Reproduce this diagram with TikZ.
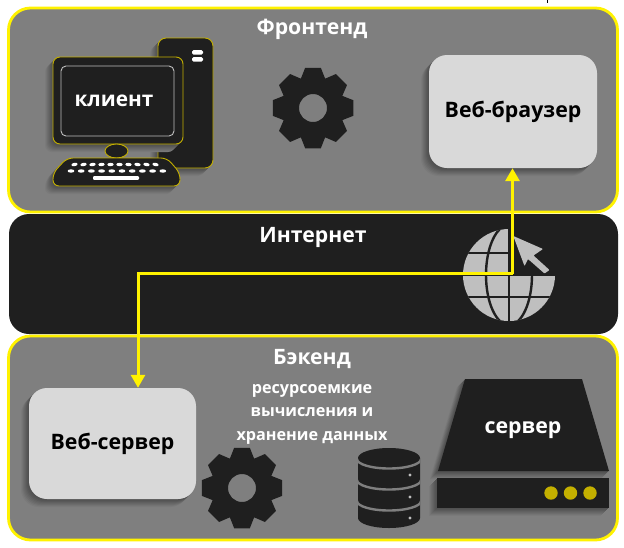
\documentclass[tikz,border=0pt]{standalone}
\usepackage{fontspec}
\setmainfont{Open Sans}
\usetikzlibrary{arrows.meta}
\definecolor{pgray}{HTML}{7F7F7F}
\definecolor{dark}{HTML}{1F1F1F}
\definecolor{lgray}{HTML}{D9D9D9}
\definecolor{globec}{HTML}{BFBFBF}
\definecolor{yel}{HTML}{FFF200}
\definecolor{dyel}{HTML}{C4B000}
\tikzset{
  panel/.style={draw=yel,line width=2.8pt,fill=pgray,rounded corners=22pt,inner sep=0pt},
  midpanel/.style={fill=dark,rounded corners=20pt,inner sep=0pt},
  card/.style={fill=lgray,rounded corners=18pt,inner sep=0pt,text=black,font=\bfseries\fontsize{21.3}{25}\selectfont},
  title/.style={text=white,inner sep=0pt,align=center,font=\bfseries\fontsize{21.2}{25}\selectfont},
  note/.style={text=white,inner sep=0pt,align=center,font=\bfseries\fontsize{16.2}{23.5}\selectfont},
  outl/.style={draw=dyel,line width=.9pt,fill=dark},
  conn/.style={draw=yel,line width=3pt},
  yhead/.style={-{Triangle[length=13pt,width=14pt,fill=yel]}},
}
% stacked opaque tints, outermost first: offset / percentage of panel grey
\newcommand{\softrect}[5]{%
  \foreach \k/\p in {8/96,7/91,6/86,5/81,4/76,3/71,2/67,1/64} {
    \fill[pgray!\p!black,rounded corners=#5] (#1-\k,#2+\k) rectangle (#3-\k,#4+\k);
  }%
}
\newcommand{\gearshape}[2]{%
  \fill[dark,even odd rule,shift={(#1,#2)}] (-24:31)
    \foreach \a in {0,45,...,315} {
      -- (\a-22:32) -- (\a-11:41) -- (\a+11:41) -- (\a+22:32)
    } -- cycle (0,0) circle (14);
}
\begin{document}
\begin{tikzpicture}[x=1pt,y=-1pt]
\useasboundingbox (0,0) rectangle (624,547);
\fill[white] (0,0) rectangle (624,547);
\draw[black,line width=.6pt] (547.5,0) -- (547.5,3);
% panels
\node[panel,minimum width=609,minimum height=204] (front) at (313,110) {};
\node[panel,minimum width=609,minimum height=204] (back) at (313,438) {};
\node[midpanel,minimum width=609,minimum height=120] (net) at (313.5,274) {};
\node[title] (tfront) at (312,29.5) {Фронтенд};
\node[title] (tnet) at (313,237) {Интернет};
\node[title] (tback) at (312,359) {Бэкенд};
% computer
\softrect{158}{38}{213}{168}{8pt}
\path[outl,rounded corners=8pt] (158,38) rectangle (213,168);
\fill[white,rounded corners=1.5pt] (192,50) rectangle (203,54.5) (192,57) rectangle (203,61.5);
\softrect{53}{57}{183}{144}{7pt}
\path[outl,rounded corners=7pt] (53,57) rectangle (183,144);
\draw[globec,line width=.9pt,fill=dark,rounded corners=5pt] (61,66) rectangle (174,136);
\node[text=white,inner sep=0pt,font=\bfseries\fontsize{20.8}{25}\selectfont] (client) at (114,101) {клиент};
\path[outl] (116.5,151) ellipse (11.5 and 7);
\foreach \k/\p in {8/96,7/91,6/86,5/81,4/76,3/71,2/67,1/64} {
  \fill[pgray!\p!black,rounded corners=6pt] (67-\k,158+\k) -- (167-\k,158+\k) -- (180-\k,173+\k) -- (180-\k,186+\k) -- (53-\k,186+\k) -- (53-\k,173+\k) -- cycle;
}
\path[outl,rounded corners=6pt] (67,158) -- (167,158) -- (180,173) -- (180,186) -- (53,186) -- (53,173) -- cycle;
\foreach \i in {0,...,9} {
  \fill[white,rotate around={(\i-4.5)*-2.5:(115+\i*9-40.5,164.5)}] (115+\i*9-40.5,164.5) ellipse (3.2 and 1.7);
  \fill[white] (117+\i*10.2-46,171) ellipse (3.4 and 1.7);
}
\fill[white,rounded corners=1pt] (93,176.2) rectangle (139,179.8);
% front gear and browser
\gearshape{313}{108}
\softrect{429}{55}{597}{168}{18pt}
\node[card,minimum width=168,minimum height=113] (browser) at (513,111.5) {\raisebox{-2pt}{Веб-браузер}};
% globe
\begin{scope}
  \clip (509,275) circle (46);
  \fill[globec] (463,228) rectangle (509,322);
  \fill[globec] (509,275) rectangle (556,322);
  \draw[dark,line width=2.4pt] (509,275) ellipse (23 and 50);
  \draw[dark,line width=2.4pt] (509,225) -- (509,325);
  \draw[dark,line width=2.4pt] (460,253) -- (560,253) (460,297) -- (560,297) (460,275) -- (560,275);
\end{scope}
\fill[globec,rounded corners=.8pt] (513.3,236) -- (543,249) -- (533.5,255.5) -- (549.5,270) -- (544.5,273.5) -- (528,259) -- (524.5,266) -- cycle;
% back
\softrect{29}{388}{196}{499}{18pt}
\node[card,minimum width=167,minimum height=111] (webserver) at (112.5,443.5) {\raisebox{-2pt}{Веб-сервер}};
\gearshape{242}{488}
\node[note] (heavy) at (312,414) {ресурсоемкие\\вычисления и\\хранение данных};
% database
\begin{scope}
  \path[clip] (358,458) arc (180:360:31 and 10) -- (420,518) arc (0:180:31 and 10) -- cycle;
  \fill[dark] (350,440) rectangle (430,535);
  \foreach \yy in {459,480,501} {
    \draw[pgray,line width=2.4pt] (357,\yy) arc (180:0:32 and 9.5);
  }
\end{scope}
\foreach \yy in {475,497,518} { \fill[globec] (410,\yy) circle (1.6); }
% server
\foreach \k/\p in {8/96,7/91,6/86,5/81,4/76,3/71,2/67,1/64} {
  \fill[pgray!\p!black] (465-\k,379+\k) -- (582-\k,379+\k) -- (609-\k,471+\k) -- (438-\k,471+\k) -- cycle;
}
\fill[dark] (465,379) -- (582,379) -- (609,471) -- (438,471) -- cycle;
\softrect{437}{478}{609}{508}{0pt}
\fill[dark] (437,478) rectangle (609,508);
\foreach \xx in {551,570.5,590} { \fill[dyel] (\xx,493) circle (6.7); }
\node[text=white,inner sep=0pt,font=\bfseries\fontsize{21.3}{25}\selectfont] (srv) at (523,430) {сервер};
% connector
\coordinate (bendA) at (512.5,273.5);
\coordinate (bendB) at (138,273.5);
\draw[conn,yhead,line join=miter] (bendA) -- (bendA |- browser.south);
\draw[conn,yhead,line join=miter] (bendA) -- (bendB) -- (bendB |- webserver.north);
\end{tikzpicture}
\end{document}
